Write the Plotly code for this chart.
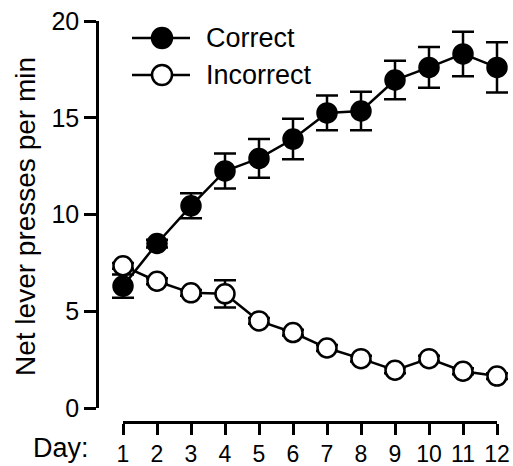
import plotly.graph_objects as go

days = [1, 2, 3, 4, 5, 6, 7, 8, 9, 10, 11, 12]
correct_mean = [6.3, 8.5, 10.45, 12.25, 12.9, 13.9, 15.25, 15.35, 16.95, 17.6, 18.3, 17.6]
correct_sem = [0.6, 0.2, 0.65, 0.9, 1.0, 1.05, 0.9, 1.0, 1.0, 1.05, 1.15, 1.3]
incorrect_mean = [7.35, 6.55, 5.95, 5.9, 4.5, 3.9, 3.1, 2.55, 1.95, 2.55, 1.9, 1.65]
incorrect_sem = [0.15, 0.15, 0.15, 0.7, 0.15, 0.15, 0.15, 0.15, 0.15, 0.15, 0.15, 0.15]
ytick_vals = [0, 5, 10, 15, 20]
series_names = ["Correct", "Incorrect"]

W, H = 513, 466
FONT = "Liberation Sans, Arial, sans-serif"

def px(x):
    return x / W

def py(y):
    return 1 - y / H

# pixel geometry of the day axis
X_FIRST, X_LAST = 123, 497
per_day = (X_LAST - X_FIRST) / (days[-1] - days[0])
data_left, data_right = 97, 513
x_range = [days[0] - (X_FIRST - data_left) / per_day, days[-1] + (data_right - X_LAST) / per_day]

fig = go.Figure()
# invisible helper trace so the detached day axis is drawn (added first, so it sits underneath)
fig.add_trace(go.Scatter(
    x=days, y=correct_mean, xaxis="x2", yaxis="y", mode="markers",
    marker=dict(size=1, opacity=0), hoverinfo="skip", showlegend=False,
))
fig.add_trace(go.Scatter(
    x=days, y=correct_mean, name=series_names[0], mode="lines+markers",
    line=dict(color="black", width=2.5),
    marker=dict(size=19, color="black", line=dict(color="black", width=2.5)),
    error_y=dict(type="data", array=correct_sem, color="black", thickness=2.5, width=11),
    cliponaxis=False, showlegend=False,
))
fig.add_trace(go.Scatter(
    x=days, y=incorrect_mean, name=series_names[1], mode="lines+markers",
    line=dict(color="black", width=2.5),
    marker=dict(size=19, color="white", line=dict(color="black", width=2.5)),
    error_y=dict(type="data", array=incorrect_sem, color="black", thickness=2.5, width=11),
    cliponaxis=False, showlegend=False,
))

fig.update_layout(
    width=W, height=H,
    margin=dict(l=0, r=0, t=0, b=0),
    paper_bgcolor="white", plot_bgcolor="rgba(0,0,0,0)",
    font=dict(family=FONT, color="black"),
    xaxis=dict(
        domain=[px(data_left), px(data_right)], range=x_range, visible=False,
        showgrid=False, zeroline=False, automargin=False,
    ),
    xaxis2=dict(
        domain=[px(X_FIRST), px(X_LAST)], range=[days[0], days[-1]], anchor="free", position=py(422),
        showline=True, linewidth=2.5, linecolor="black",
        ticks="outside", ticklen=11, tickwidth=2.5, tickcolor="black",
        tickvals=days, ticktext=[str(d) for d in days],
        tickfont=dict(size=23, family=FONT),
        showgrid=False, zeroline=False, automargin=False,
    ),
    yaxis=dict(
        domain=[py(408), py(21)], range=[0, 20], anchor="free", position=px(97),
        showline=True, linewidth=2.5, linecolor="black",
        ticks="outside", ticklen=12, tickwidth=2.5, tickcolor="black",
        tickvals=ytick_vals, ticktext=[str(v) for v in ytick_vals],
        tickfont=dict(size=25, family=FONT),
        showgrid=False, zeroline=False, automargin=False,
    ),
    showlegend=False,
)

# Axis labels
fig.add_annotation(text="Net lever presses per min", x=px(25), y=py(217), xref="paper", yref="paper",
                   textangle=-90, showarrow=False, font=dict(size=28, family=FONT),
                   xanchor="center", yanchor="middle")
fig.add_annotation(text="Day:", x=px(91), y=py(448), xref="paper", yref="paper",
                   showarrow=False, font=dict(size=27, family=FONT),
                   xanchor="right", yanchor="middle")

# Manual legend
legend_y = [38, 75]
fills = ["black", "white"]
for name, ly, fc in zip(series_names, legend_y, fills):
    fig.add_shape(type="line", xref="paper", yref="paper", x0=px(132), x1=px(190), y0=py(ly), y1=py(ly),
                  line=dict(color="black", width=2.5), layer="above")
    fig.add_shape(type="circle", xref="paper", yref="paper", xsizemode="pixel", ysizemode="pixel",
                  xanchor=px(162), yanchor=py(ly), x0=-10, x1=10, y0=-10, y1=10,
                  fillcolor=fc, line=dict(color="black", width=2.5), layer="above")
    fig.add_annotation(text=name, x=px(204), y=py(ly), xref="paper", yref="paper",
                       showarrow=False, font=dict(size=27, family=FONT),
                       xanchor="left", yanchor="middle")

fig.write_html("out.html")
